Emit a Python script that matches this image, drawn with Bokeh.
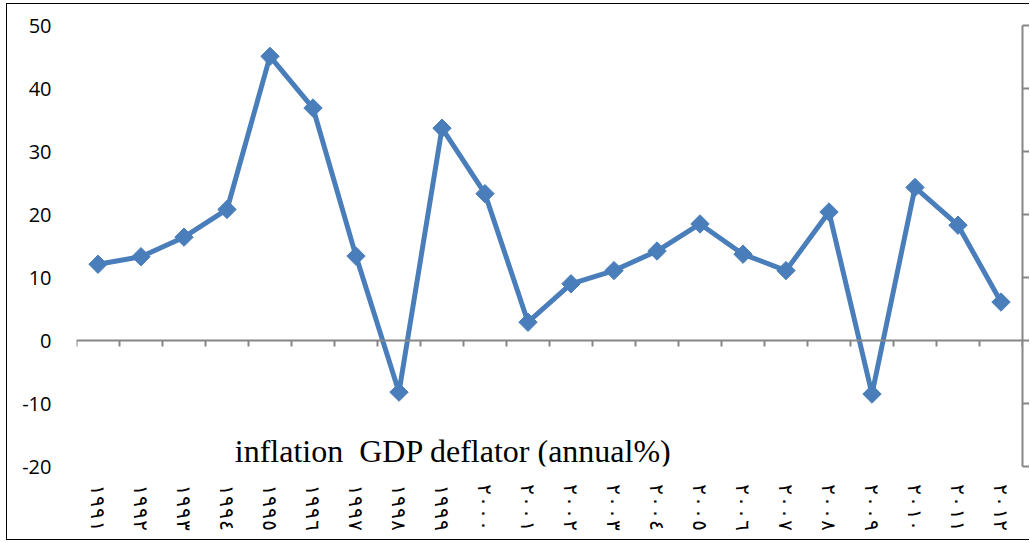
import math
from bokeh.plotting import figure
from bokeh.models import (Range1d, LinearAxis, FixedTicker, Label,
                          ColumnDataSource)
from bokeh.embed import file_html
from bokeh.resources import INLINE

# ---- data ----
years = ["١٩٩١", "١٩٩٢", "١٩٩٣", "١٩٩٤", "١٩٩٥", "١٩٩٦", "١٩٩٧", "١٩٩٨",
         "١٩٩٩", "٢٠٠٠", "٢٠٠١", "٢٠٠٢", "٢٠٠٣", "٢٠٠٤", "٢٠٠٥", "٢٠٠٦",
         "٢٠٠٧", "٢٠٠٨", "٢٠٠٩", "٢٠١٠", "٢٠١١", "٢٠١٢"]
inflation = [12.1, 13.3, 16.4, 20.8, 45.1, 36.9, 13.4, -8.2, 33.7, 23.3, 2.9,
             9.0, 11.1, 14.2, 18.5, 13.7, 11.1, 20.4, -8.5, 24.3, 18.3, 6.1]
y_ticks = [-20, -10, 0, 10, 20, 30, 40, 50]
series_label = "inflation\u00a0 GDP deflator (annual%)"

LINE_COLOR = "#4A7EBB"
AXIS_GRAY = "#868686"

n = len(years)
centers = [i + 0.5 for i in range(n)]          # category centres
boundaries = list(range(n + 1))                 # category boundaries

src = ColumnDataSource(dict(x=centers, year=years, value=inflation))

p = figure(width=1023, height=537,
           x_range=Range1d(0, n), y_range=Range1d(-20, 50),
           output_backend="svg", toolbar_location=None,
           min_border_left=69, min_border_right=8,
           min_border_top=21, min_border_bottom=75,
           styles={"margin-left": "6px", "margin-top": "3px",
                   "border-left": "1px solid black",
                   "border-top": "1px solid black",
                   "border-bottom": "1px solid black"})
p.outline_line_color = None
p.xgrid.visible = False
p.ygrid.visible = False
p.background_fill_color = "white"
p.border_fill_color = "white"

# left y axis: labels only
yax = p.yaxis[0]
yax.ticker = FixedTicker(ticks=y_ticks)
yax.major_label_overrides = {t: str(t) for t in y_ticks}
yax.axis_line_color = None
yax.major_tick_line_color = None
yax.minor_tick_line_color = None
yax.major_label_text_font = "Open Sans"
yax.major_label_text_font_size = "20px"
yax.major_label_text_color = "#000000"
yax.major_label_standoff = 19

# category label axis: rotated labels only
xax = p.below[0]
xax.ticker = FixedTicker(ticks=centers)
xax.major_label_overrides = {c: y for c, y in zip(centers, years)}
xax.axis_line_color = None
xax.major_tick_line_color = None
xax.minor_tick_line_color = None
xax.major_label_orientation = -math.pi / 2
xax.major_label_text_font = "DejaVu Sans Mono"
xax.major_label_text_font_size = "20px"
xax.major_label_text_color = "#000000"
xax.major_label_standoff = 11

# zero line with boundary ticks (no labels)
zero_axis = LinearAxis(fixed_location=0,
                       ticker=FixedTicker(ticks=boundaries),
                       major_label_overrides={b: "" for b in boundaries},
                       axis_line_color=AXIS_GRAY, axis_line_width=2,
                       major_tick_line_color=AXIS_GRAY, major_tick_line_width=2,
                       major_tick_out=6, major_tick_in=0,
                       minor_tick_line_color=None,
                       major_label_standoff=0)
p.add_layout(zero_axis, "below")

# right axis (secondary frame, labels outside the picture)
right_axis = LinearAxis(ticker=FixedTicker(ticks=y_ticks),
                        major_label_overrides={t: "" for t in y_ticks},
                        axis_line_color=AXIS_GRAY, axis_line_width=2,
                        major_tick_line_color=AXIS_GRAY, major_tick_line_width=2,
                        major_tick_out=8, major_tick_in=0,
                        minor_tick_line_color=None,
                        major_label_standoff=0)
p.add_layout(right_axis, "right")

p.line("x", "value", source=src, line_color=LINE_COLOR, line_width=5,
       line_join="round")
p.scatter("x", "value", source=src, marker="square", size=13,
          angle=math.pi / 4, fill_color=LINE_COLOR, line_color=LINE_COLOR)

p.add_layout(Label(x=3.68, y=-17.6, text=series_label,
                   text_font="Liberation Serif", text_font_size="32px",
                   text_color="#000000", text_baseline="alphabetic"))

open("out.html", "w").write(file_html(p, INLINE))
